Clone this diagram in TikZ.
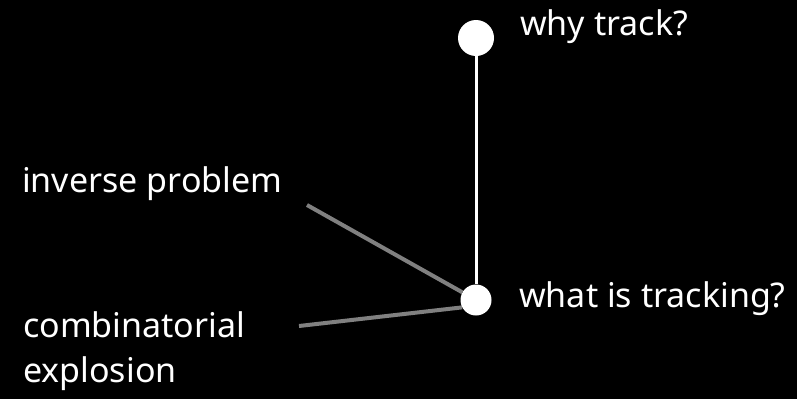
\documentclass[tikz,border=0pt]{standalone}
\usepackage{fontspec}
\setmainfont{Noto Sans}
\usetikzlibrary{backgrounds}
\begin{document}
\begin{tikzpicture}[x=1pt,y=-1pt,
  dot/.style={circle,fill=white,draw=none,inner sep=0pt},
  lbl/.style={anchor=base west,inner sep=0pt,text=white,font=\fontsize{34}{45}\selectfont},
  mainline/.style={draw=white,line width=3pt},
  sideline/.style={draw=gray,line width=4pt}]
\useasboundingbox (0,0) rectangle (797,399);
\node[dot,minimum size=36pt] (why) at (476,38) {};
\node[dot,minimum size=31pt] (what) at (476,300) {};
\coordinate (ip) at (307,205);
\coordinate (ce) at (299,326);
\node[lbl] (twhy) at (520,35) {why track?};
\node[lbl] (twhat) at (519,307) {what is tracking?};
\node[lbl] (tinv) at (22,192) {inverse problem};
\node[lbl] (tcomb) at (23,337) {combinatorial};
\node[lbl] (texp) at (23,382) {explosion};
\begin{scope}[on background layer]
\fill[black] (0,0) rectangle (797,399);
\draw[mainline] (why) -- (what);
\draw[sideline] (ip) -- (what);
\draw[sideline] (ce) -- (what.208);
\end{scope}
\end{tikzpicture}
\end{document}
